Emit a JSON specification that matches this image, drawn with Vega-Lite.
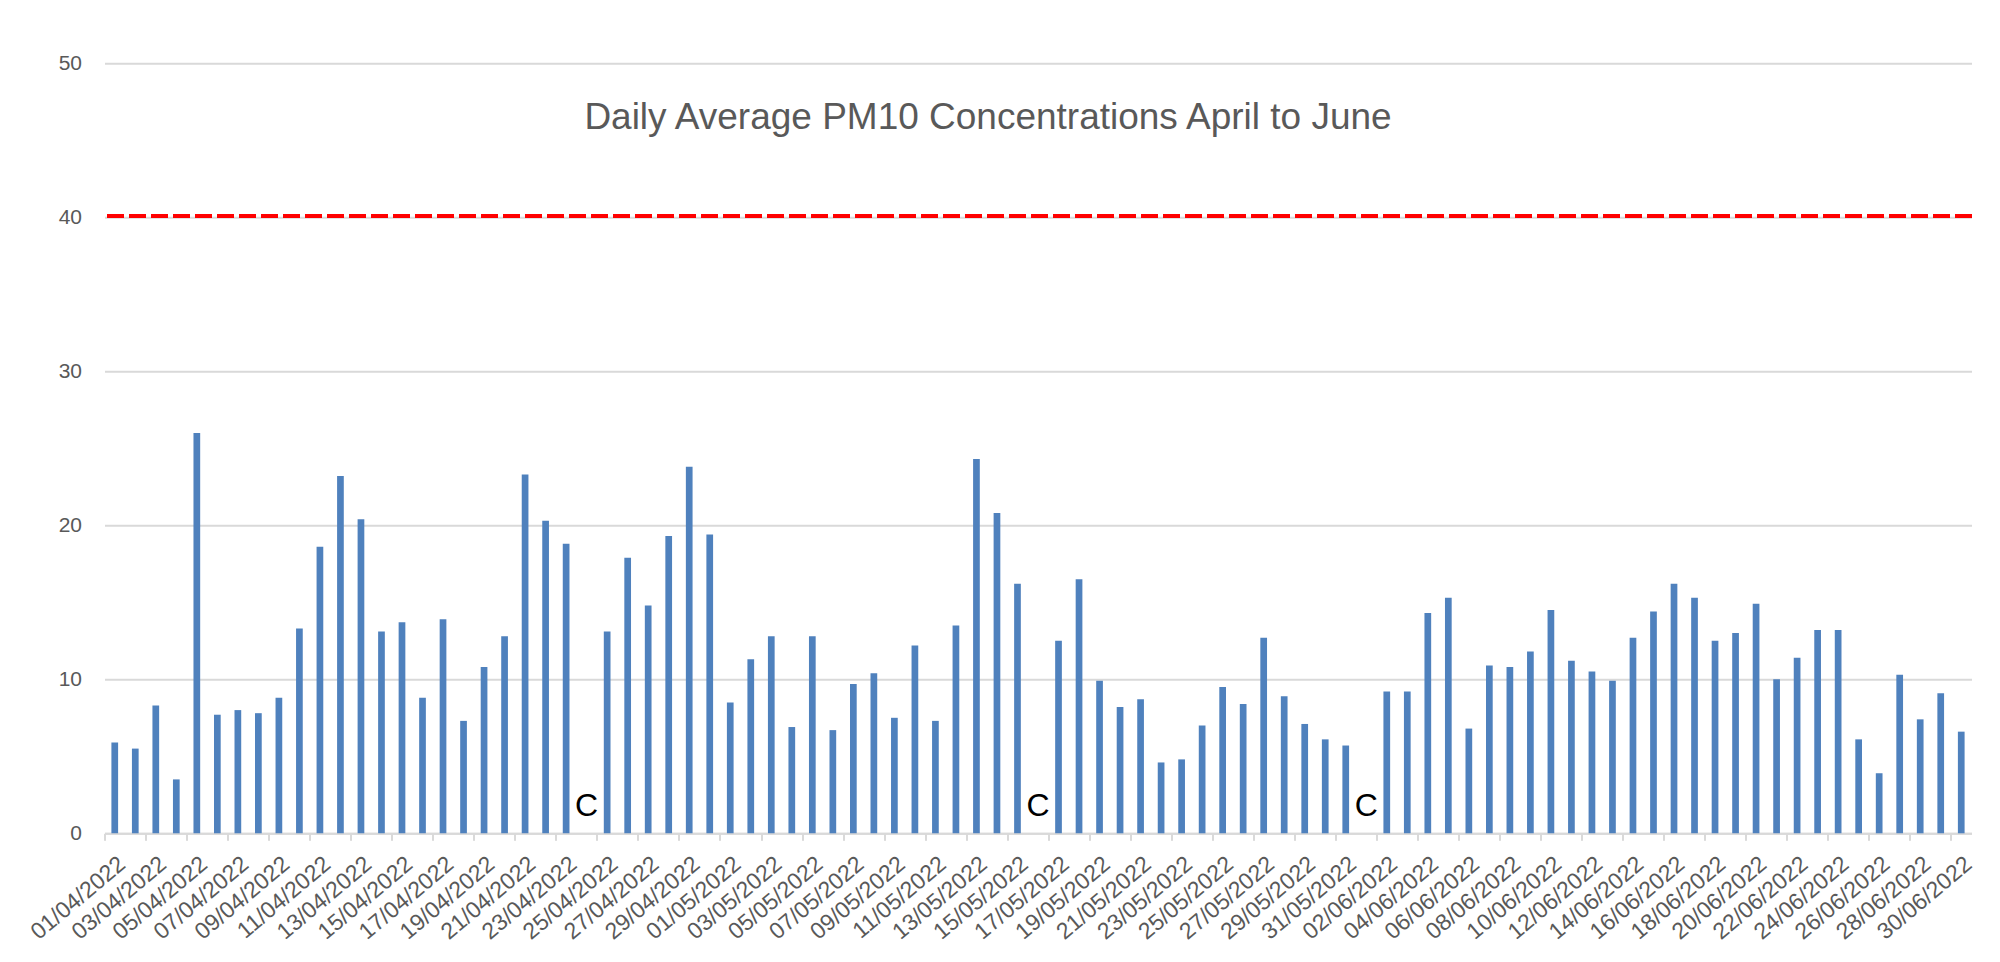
{
  "$schema": "https://vega.github.io/schema/vega-lite/v6.json",
  "width": 1867,
  "height": 770,
  "autosize": {"type": "none"},
  "padding": {"left": 104.5, "top": 63.3, "right": 28, "bottom": 129},
  "background": "white",
  "title": {
    "text": "Daily Average PM10 Concentrations April to June",
    "anchor": "middle",
    "frame": "group",
    "orient": "top",
    "offset": -62,
    "dy": 52,
    "dx": -50,
    "baseline": "alphabetic",
    "font": "Liberation Sans",
    "fontSize": 37,
    "fontWeight": "normal",
    "color": "#595959"
  },
  "data": {
    "values": [
      {"date": "01/04/2022", "pm10": 5.9},
      {"date": "02/04/2022", "pm10": 5.5},
      {"date": "03/04/2022", "pm10": 8.3},
      {"date": "04/04/2022", "pm10": 3.5},
      {"date": "05/04/2022", "pm10": 26.0},
      {"date": "06/04/2022", "pm10": 7.7},
      {"date": "07/04/2022", "pm10": 8.0},
      {"date": "08/04/2022", "pm10": 7.8},
      {"date": "09/04/2022", "pm10": 8.8},
      {"date": "10/04/2022", "pm10": 13.3},
      {"date": "11/04/2022", "pm10": 18.6},
      {"date": "12/04/2022", "pm10": 23.2},
      {"date": "13/04/2022", "pm10": 20.4},
      {"date": "14/04/2022", "pm10": 13.1},
      {"date": "15/04/2022", "pm10": 13.7},
      {"date": "16/04/2022", "pm10": 8.8},
      {"date": "17/04/2022", "pm10": 13.9},
      {"date": "18/04/2022", "pm10": 7.3},
      {"date": "19/04/2022", "pm10": 10.8},
      {"date": "20/04/2022", "pm10": 12.8},
      {"date": "21/04/2022", "pm10": 23.3},
      {"date": "22/04/2022", "pm10": 20.3},
      {"date": "23/04/2022", "pm10": 18.8},
      {"date": "24/04/2022", "pm10": null, "label": "C"},
      {"date": "25/04/2022", "pm10": 13.1},
      {"date": "26/04/2022", "pm10": 17.9},
      {"date": "27/04/2022", "pm10": 14.8},
      {"date": "28/04/2022", "pm10": 19.3},
      {"date": "29/04/2022", "pm10": 23.8},
      {"date": "30/04/2022", "pm10": 19.4},
      {"date": "01/05/2022", "pm10": 8.5},
      {"date": "02/05/2022", "pm10": 11.3},
      {"date": "03/05/2022", "pm10": 12.8},
      {"date": "04/05/2022", "pm10": 6.9},
      {"date": "05/05/2022", "pm10": 12.8},
      {"date": "06/05/2022", "pm10": 6.7},
      {"date": "07/05/2022", "pm10": 9.7},
      {"date": "08/05/2022", "pm10": 10.4},
      {"date": "09/05/2022", "pm10": 7.5},
      {"date": "10/05/2022", "pm10": 12.2},
      {"date": "11/05/2022", "pm10": 7.3},
      {"date": "12/05/2022", "pm10": 13.5},
      {"date": "13/05/2022", "pm10": 24.3},
      {"date": "14/05/2022", "pm10": 20.8},
      {"date": "15/05/2022", "pm10": 16.2},
      {"date": "16/05/2022", "pm10": null, "label": "C"},
      {"date": "17/05/2022", "pm10": 12.5},
      {"date": "18/05/2022", "pm10": 16.5},
      {"date": "19/05/2022", "pm10": 9.9},
      {"date": "20/05/2022", "pm10": 8.2},
      {"date": "21/05/2022", "pm10": 8.7},
      {"date": "22/05/2022", "pm10": 4.6},
      {"date": "23/05/2022", "pm10": 4.8},
      {"date": "24/05/2022", "pm10": 7.0},
      {"date": "25/05/2022", "pm10": 9.5},
      {"date": "26/05/2022", "pm10": 8.4},
      {"date": "27/05/2022", "pm10": 12.7},
      {"date": "28/05/2022", "pm10": 8.9},
      {"date": "29/05/2022", "pm10": 7.1},
      {"date": "30/05/2022", "pm10": 6.1},
      {"date": "31/05/2022", "pm10": 5.7},
      {"date": "01/06/2022", "pm10": null, "label": "C"},
      {"date": "02/06/2022", "pm10": 9.2},
      {"date": "03/06/2022", "pm10": 9.2},
      {"date": "04/06/2022", "pm10": 14.3},
      {"date": "05/06/2022", "pm10": 15.3},
      {"date": "06/06/2022", "pm10": 6.8},
      {"date": "07/06/2022", "pm10": 10.9},
      {"date": "08/06/2022", "pm10": 10.8},
      {"date": "09/06/2022", "pm10": 11.8},
      {"date": "10/06/2022", "pm10": 14.5},
      {"date": "11/06/2022", "pm10": 11.2},
      {"date": "12/06/2022", "pm10": 10.5},
      {"date": "13/06/2022", "pm10": 9.9},
      {"date": "14/06/2022", "pm10": 12.7},
      {"date": "15/06/2022", "pm10": 14.4},
      {"date": "16/06/2022", "pm10": 16.2},
      {"date": "17/06/2022", "pm10": 15.3},
      {"date": "18/06/2022", "pm10": 12.5},
      {"date": "19/06/2022", "pm10": 13.0},
      {"date": "20/06/2022", "pm10": 14.9},
      {"date": "21/06/2022", "pm10": 10.0},
      {"date": "22/06/2022", "pm10": 11.4},
      {"date": "23/06/2022", "pm10": 13.2},
      {"date": "24/06/2022", "pm10": 13.2},
      {"date": "25/06/2022", "pm10": 6.1},
      {"date": "26/06/2022", "pm10": 3.9},
      {"date": "27/06/2022", "pm10": 10.3},
      {"date": "28/06/2022", "pm10": 7.4},
      {"date": "29/06/2022", "pm10": 9.1},
      {"date": "30/06/2022", "pm10": 6.6}
    ]
  },
  "layer": [
    {
      "mark": {"type": "text", "font": "Liberation Sans", "fontSize": 32, "color": "black", "baseline": "middle", "align": "center"},
      "encoding": {
        "x": {
          "field": "date",
          "type": "ordinal",
          "sort": null,
          "scale": {"paddingInner": 0.673, "paddingOuter": 0.3365},
          "axis": {
            "title": null,
            "values": ["01/04/2022","03/04/2022","05/04/2022","07/04/2022","09/04/2022","11/04/2022","13/04/2022","15/04/2022","17/04/2022","19/04/2022","21/04/2022","23/04/2022","25/04/2022","27/04/2022","29/04/2022","01/05/2022","03/05/2022","05/05/2022","07/05/2022","09/05/2022","11/05/2022","13/05/2022","15/05/2022","17/05/2022","19/05/2022","21/05/2022","23/05/2022","25/05/2022","27/05/2022","29/05/2022","31/05/2022","02/06/2022","04/06/2022","06/06/2022","08/06/2022","10/06/2022","12/06/2022","14/06/2022","16/06/2022","18/06/2022","20/06/2022","22/06/2022","24/06/2022","26/06/2022","28/06/2022","30/06/2022"],
            "labelAngle": -40,
            "labelFont": "Liberation Sans",
            "labelFontSize": 23,
            "labelColor": "#595959",
            "labelPadding": 12,
            "labelOverlap": false,
            "tickSize": 7,
            "tickWidth": 2,
            "tickColor": "#D9D9D9",
            "tickOffset": -10.26,
            "labelOffset": 10.26,
            "domainColor": "#D9D9D9",
            "domainWidth": 2,
            "grid": false
          }
        },
        "text": {"condition": {"test": "datum.label === 'C'", "field": "label"}, "value": ""},
        "y": {"datum": 1.8, "type": "quantitative"}
      }
    },
    {
      "mark": {"type": "bar", "color": "#4F81BD"},
      "encoding": {
        "x": {"field": "date", "type": "ordinal", "sort": null},
        "y": {
          "field": "pm10",
          "type": "quantitative",
          "scale": {"domain": [0, 50], "nice": false},
          "axis": {
            "title": null,
            "values": [0, 10, 20, 30, 40, 50],
            "domain": false,
            "ticks": false,
            "tickSize": 0,
            "labelPadding": 23,
            "labelFont": "Liberation Sans",
            "labelFontSize": 21,
            "labelColor": "#595959",
            "grid": true,
            "gridColor": "#D9D9D9",
            "gridWidth": 2
          }
        }
      }
    },
    {
      "mark": {"type": "rule", "color": "#FF0000", "strokeWidth": 3, "strokeDash": [16, 6]},
      "encoding": {
        "y": {"datum": 40.1, "type": "quantitative"}
      }
    }
  ],
  "config": {
    "view": {"stroke": null}
  }
}
